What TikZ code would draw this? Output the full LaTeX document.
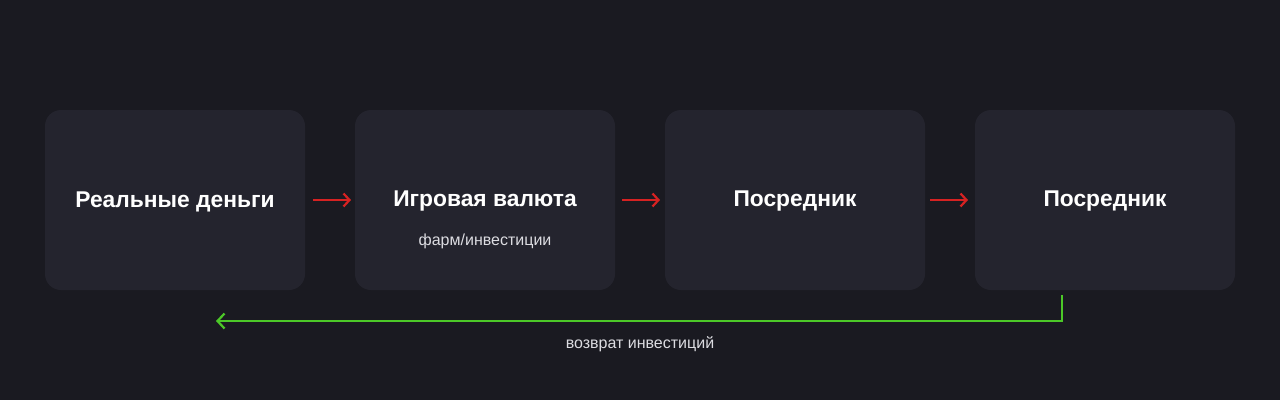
\documentclass[tikz,border=0pt]{standalone}
\usepackage{fontspec}
\setmainfont{Liberation Sans}
\usetikzlibrary{arrows.meta}
\definecolor{bgc}{RGB}{26,26,33}
\definecolor{boxc}{RGB}{36,36,46}
\definecolor{redc}{RGB}{214,34,34}
\definecolor{greenc}{RGB}{76,200,40}
\definecolor{subc}{RGB}{220,220,225}
\tikzset{
  card/.style={fill=boxc, rounded corners=16pt, minimum width=260pt, minimum height=180pt, inner sep=0pt},
  title/.style={text=white, font=\fontsize{22.8}{26}\selectfont\bfseries, inner sep=0pt},
  sub/.style={text=subc, font=\fontsize{16}{19}\selectfont, inner sep=0pt},
  redarrow/.style={draw=redc, line width=2.2pt, -{Straight Barb[length=6pt,width=13pt,line width=2.2pt]}},
  greenarrow/.style={draw=greenc, line width=2.2pt, -{Straight Barb[length=7pt,width=15pt,line width=2.2pt]}},
}
\begin{document}
\begin{tikzpicture}[x=1pt,y=-1pt]
\fill[bgc] (0,0) rectangle (1280,400);
\useasboundingbox (0,0) rectangle (1280,400);
\node[card] (b1) at (175,200) {};
\node[card] (b2) at (485,200) {};
\node[card] (b3) at (795,200) {};
\node[card] (b4) at (1105,200) {};
\node[title] (t1) at (175,201.5) {Реальные деньги};
\node[title] (t2) at (485,201.5) {Игровая валюта};
\node[sub] (s2) at (485,241) {фарм/инвестиции};
\node[title] (t3) at (795,201.5) {Посредник};
\node[title] (t4) at (1105,201.5) {Посредник};
\coordinate (r1a) at (313,200); \coordinate (r1b) at (351,200);
\coordinate (r2a) at (622,200); \coordinate (r2b) at (660,200);
\coordinate (r3a) at (930,200); \coordinate (r3b) at (968,200);
\draw[redarrow] (r1a) -- (r1b);
\draw[redarrow] (r2a) -- (r2b);
\draw[redarrow] (r3a) -- (r3b);
\coordinate (g1) at (1062,295);
\coordinate (g2) at (1062,321);
\coordinate (g3) at (216,321);
\draw[greenarrow] (g1) -- (g2) -- (g3);
\node[sub] (lab) at (640,344) {возврат инвестиций};
\end{tikzpicture}
\end{document}
